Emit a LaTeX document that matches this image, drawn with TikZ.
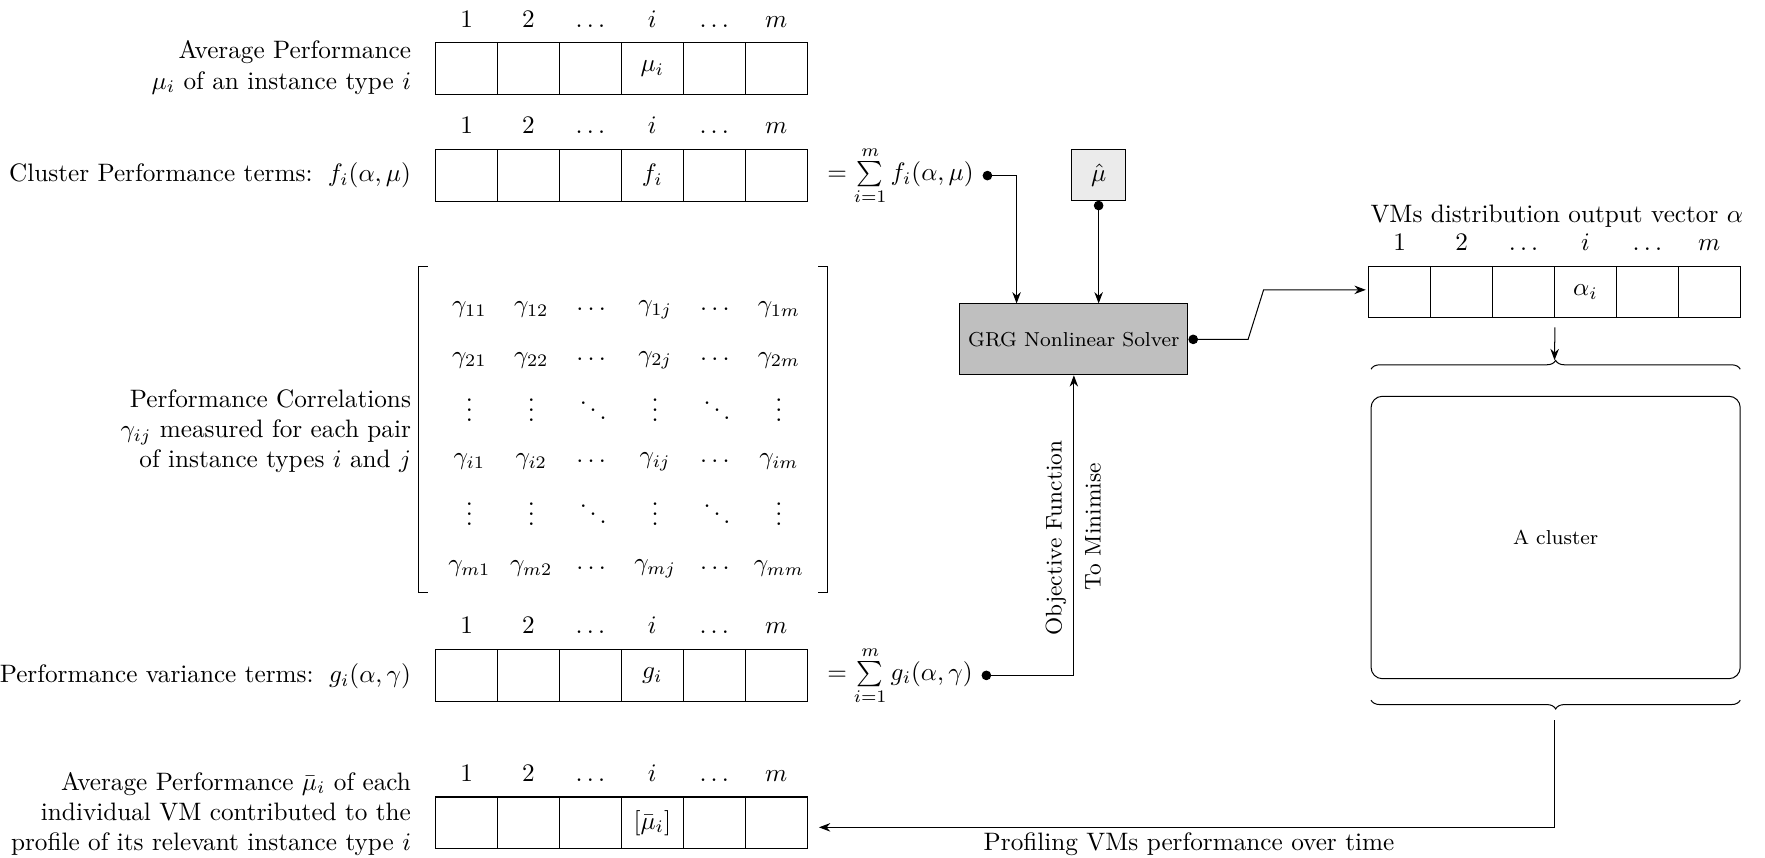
\documentclass[tikz,border=0pt]{standalone}
\usepackage{amsmath,amssymb}
\usepackage{tikz}
\usetikzlibrary{arrows.meta, positioning, calc, decorations.pathreplacing}

\tikzset{
  cell/.style={draw, minimum width=24.55pt, minimum height=20.5pt, inner sep=0pt},
  dotline/.style={{Circle[length=3.8pt]}->},
  curly/.style={decorate, decoration={brace, amplitude=3.5pt}},
}

\begin{document}
\begin{tikzpicture}[x=0.4464pt, y=-0.4464pt, >={Stealth[length=4.5pt]}]
	\useasboundingbox (0,0) rectangle (1568,762);
	% the five vectors with their column headers
	\foreach \vname/\vx/\vy/\ventry in {mu/387/61/{\mu_i}, f/387/156/{f_i}, g/387/600/{g_i},
		mubar/387/731/{[\bar{\mu}_i]}, alpha/1216/259.5/{\alpha_i}}{
		\foreach \lab [count=\k] in {1,2,\ldots,i,\ldots,m}{
			\node[cell] (\vname-\k) at ({\vx+55*\k-27.5},\vy) {\ifnum\k=4 $\ventry$\fi};
			\node[anchor=base] (\vname-h\k) at ({\vx+55*\k-27.5},\vy-37) {$\lab$};
		}
	}
	\node[anchor=east, align=right] (mu-lab) at (373,60)
	{Average Performance\\ $\mu_i$ of an instance type $i$};
	\node[anchor=east] (f-lab) at (373,156) {Cluster Performance terms:\, $f_i(\alpha,\mu)$};
	\node[anchor=east, align=right] (gamma-lab) at (373,383)
	{Performance Correlations\\ $\gamma_{ij}$ measured for each pair\\ of instance types $i$ and $j$};
	\node[anchor=east] (g-lab) at (373,601) {Performance variance terms:\, $g_i(\alpha,\gamma)$};
	\node[anchor=east, align=right] (mubar-lab) at (373,723)
	{Average Performance $\bar{\mu}_i$ of each\\ individual VM contributed to the\\
		profile of its relevant instance type $i$};
	% correlation matrix
	\draw (380,237) -- (372,237) -- (372,526) -- (380,526);
	\draw (727,237) -- (735,237) -- (735,526) -- (727,526);
	\foreach \ry/\entries [count=\r] in {
		275/{\gamma_{11},\gamma_{12},\cdots,\gamma_{1j},\cdots,\gamma_{1m}},
		320/{\gamma_{21},\gamma_{22},\cdots,\gamma_{2j},\cdots,\gamma_{2m}},
		358/{\vdots,\vdots,\ddots,\vdots,\ddots,\vdots},
		410/{\gamma_{i1},\gamma_{i2},\cdots,\gamma_{ij},\cdots,\gamma_{im}},
		450/{\vdots,\vdots,\ddots,\vdots,\ddots,\vdots},
		505/{\gamma_{m1},\gamma_{m2},\cdots,\gamma_{mj},\cdots,\gamma_{mm}}}{
		\foreach \e [count=\k] in \entries
		\node (gamma-\r-\k) at ({387+55*\k-25},\ry) {$\e$};
	}
	% sums, solver and output
	\node[anchor=west] (fsum) at (727,156) {$=\sum\limits_{i=1}^{m} f_i(\alpha,\mu)$};
	\node[anchor=west] (gsum) at (727,600) {$=\sum\limits_{i=1}^{m} g_i(\alpha,\gamma)$};
	\node[draw, fill=black!8, minimum width=21.4pt, minimum height=20pt] (muhat) at (976,155.5)
	{$\hat{\mu}$};
	\node[draw, fill=black!25, minimum width=90.2pt, minimum height=28.1pt, font=\footnotesize]
	(solver) at (954,301.5) {GRG Nonlinear Solver};
	\node[rotate=90, font=\small] (objective) at (938,478) {Objective Function};
	\node[rotate=90, font=\small] (minimise) at (971,468) {To Minimise};
	\node (alpha-title) at (1383,192) {VMs distribution output vector $\alpha$};
	\node[draw, rounded corners=4.5pt, minimum width=146.4pt, minimum height=112pt, font=\footnotesize]
	(cluster) at (1382,477.5) {A cluster};
	\draw[curly] (1218,328) -- (1546,328);
	\draw[curly] (1546,622) -- (1218,622);
	\coordinate (brace-top) at (1381,320);
	\coordinate (brace-bottom) at (1381,631);
	\node[anchor=west] (profiling) at (866,750) {Profiling VMs performance over time};

	\draw[dotline] (fsum.east) -| ($(solver.north west)!0.25!(solver.north east)$);
	\draw[dotline] (muhat.south) -- (muhat.south |- solver.north);
	\draw[dotline] (gsum.east) -| (solver.south);
	\draw[dotline, shorten >=1pt] (solver.east) -- ++(53,0) -- ($(alpha-1.west)+(-93,-2)$)
	-- ($(alpha-1.west)+(0,-2)$);
	\draw[->, shorten <=3.5pt] (alpha-3.south east) -- (brace-top);
	\draw[->, shorten <=4pt, shorten >=4.5pt] (brace-bottom) |- ($(mubar-6.east)+(0,4)$);
\end{tikzpicture}
\end{document}
